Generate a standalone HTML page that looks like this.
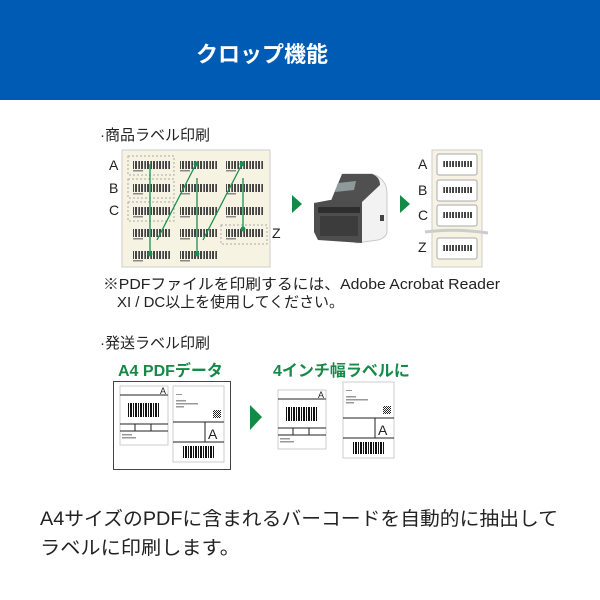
<!DOCTYPE html>
<html><head><meta charset="utf-8"><style>
body{margin:0;width:600px;height:600px;background:#fff;overflow:hidden}
svg{display:block}
text{font-family:"Liberation Sans","Noto Sans CJK JP",sans-serif}
</style></head><body>
<svg width="600" height="600" viewBox="0 0 600 600">
<defs>
<pattern id="bc" width="6" height="10" patternUnits="userSpaceOnUse">
<rect x="0" width="1" height="10" fill="#444"/><rect x="2" width="2" height="10" fill="#444"/><rect x="5" width="1" height="10" fill="#777"/>
</pattern>
<pattern id="bc2" width="5" height="10" patternUnits="userSpaceOnUse">
<rect x="0" width="2" height="10" fill="#111"/><rect x="3" width="1" height="10" fill="#111"/>
</pattern>
<pattern id="chk" width="2" height="2" patternUnits="userSpaceOnUse">
<rect width="1" height="1" fill="#222"/><rect x="1" y="1" width="1" height="1" fill="#222"/>
</pattern>
<g id="lb"><rect width="38" height="8" fill="url(#bc)"/><rect y="9" width="10" height="1.5" fill="#888"/></g>
</defs>
<rect width="600" height="100" fill="#005bb5"/>
<text x="262" y="62" font-size="22" font-weight="bold" fill="#fff" text-anchor="middle">クロップ機能</text>

<text x="100" y="140" font-size="15" fill="#222">·商品ラベル印刷</text>
<rect x="122" y="150" width="148" height="117" fill="#f7f3e3" stroke="#ccc"/>
<g font-size="14" fill="#222">
<text x="109" y="170">A</text><text x="109" y="193">B</text><text x="109" y="215">C</text><text x="272" y="238">Z</text>
</g>
<g fill="none" stroke="#aaa" stroke-dasharray="2,2">
<rect x="128" y="156" width="46" height="19"/><rect x="128" y="179" width="46" height="19"/><rect x="128" y="202" width="46" height="19"/><rect x="221" y="225" width="46" height="19"/>
</g>
<use href="#lb" x="133" y="161"/><use href="#lb" x="180" y="161"/><use href="#lb" x="226" y="161"/>
<use href="#lb" x="133" y="184"/><use href="#lb" x="180" y="184"/><use href="#lb" x="226" y="184"/>
<use href="#lb" x="133" y="207"/><use href="#lb" x="180" y="207"/><use href="#lb" x="226" y="207"/>
<use href="#lb" x="133" y="229"/><use href="#lb" x="180" y="229"/><use href="#lb" x="226" y="229"/>
<use href="#lb" x="133" y="251"/><use href="#lb" x="180" y="251"/>
<g stroke="#1a9050" stroke-width="1.3" fill="#1a9050">
<line x1="150" y1="164" x2="150" y2="254"/><line x1="157" y1="240" x2="196" y2="164"/>
<line x1="197" y1="178" x2="197" y2="254"/><line x1="203" y1="240" x2="242" y2="164"/>
<line x1="243" y1="178" x2="243" y2="229"/>
<circle cx="150" cy="254" r="1.8"/><circle cx="196" cy="164" r="1.8"/><circle cx="197" cy="254" r="1.8"/><circle cx="242" cy="164" r="1.8"/><circle cx="243" cy="229" r="1.8"/>
</g>
<polygon points="292,195 302,204 292,213" fill="#138a45"/>
<polygon points="400,195 410,204 400,213" fill="#138a45"/>
<!-- printer -->
<path d="M343 174 L372 174 Q386 178 387 192 L387 232 Q386 238 378 240 L356 243 L345 235 Z" fill="#f2f2f2" stroke="#c8c8c8"/>
<path d="M342 174 L372 174 Q380 177 380 185 L362 202 L330 203 Z" fill="#505050"/>
<path d="M338 183 L356 181 L354 190 L335 192 Z" fill="#8e9a9a"/>
<path d="M314 203 L330 200 L362 201 L362 243 L318 240 L314 232 Z" fill="#4e4e4e"/>
<rect x="318" y="207" width="42" height="6" fill="#2e2e2e"/>
<rect x="320" y="216" width="38" height="20" fill="#3c3c3c"/>
<rect x="380" y="215" width="4" height="6" fill="#444"/>

<rect x="432" y="150" width="50" height="117" fill="#f7f3e3" stroke="#ccc"/>
<g fill="#fff" stroke="#aaa"><rect x="437" y="154" width="40" height="21" rx="2"/><rect x="437" y="180" width="40" height="21" rx="2"/><rect x="437" y="205" width="40" height="21" rx="2"/><rect x="437" y="238" width="40" height="21" rx="2"/></g>
<path d="M425 232 Q455 228 488 233" stroke="#ccc" stroke-width="3" fill="none"/>
<g fill="url(#bc)"><rect x="442" y="161" width="30" height="6"/><rect x="442" y="187" width="30" height="6"/><rect x="442" y="212" width="30" height="6"/><rect x="442" y="245" width="30" height="6"/></g>
<g font-size="14" fill="#222"><text x="418" y="169">A</text><text x="418" y="195">B</text><text x="418" y="220">C</text><text x="418" y="252">Z</text></g>

<text x="103" y="289" font-size="15" fill="#222" textLength="397" lengthAdjust="spacingAndGlyphs">※PDFファイルを印刷するには、Adobe Acrobat Reader</text>
<text x="117" y="307" font-size="15" fill="#222" textLength="227" lengthAdjust="spacingAndGlyphs">XI / DC以上を使用してください。</text>

<text x="100" y="348" font-size="15" fill="#222">·発送ラベル印刷</text>
<text x="118" y="376" font-size="16" font-weight="bold" fill="#138a45">A4 PDFデータ</text>
<text x="273" y="376" font-size="16" font-weight="bold" fill="#138a45">4インチ幅ラベルに</text>
<rect x="113.5" y="381.5" width="117" height="88" fill="#fff" stroke="#444"/>

<g id="s1">
<rect x="120" y="386" width="48" height="59" fill="#fff" stroke="#ccc"/>
<line x1="120" y1="395" x2="168" y2="395" stroke="#222"/>
<text x="160" y="394" font-size="9" fill="#222">A</text>
<rect x="127" y="403" width="33" height="14" fill="url(#bc2)"/>
<line x1="120" y1="424" x2="168" y2="424" stroke="#222"/>
<line x1="120" y1="431" x2="168" y2="431" stroke="#222"/>
<line x1="135" y1="424" x2="135" y2="431" stroke="#222"/><line x1="151" y1="424" x2="151" y2="431" stroke="#222"/>
<rect x="122" y="434" width="10" height="1.5" fill="#999"/><rect x="122" y="437" width="14" height="1.5" fill="#999"/>
</g>
<g id="s2">
<rect x="173" y="386" width="51" height="76" fill="#fff" stroke="#ccc"/>
<rect x="176" y="394" width="6" height="1" fill="#999"/><rect x="176" y="400" width="10" height="1.5" fill="#999"/><rect x="176" y="403" width="22" height="1.5" fill="#999"/><rect x="176" y="406" width="8" height="1.5" fill="#999"/>
<rect x="213" y="410" width="8" height="8" fill="url(#chk)"/>
<line x1="173" y1="422" x2="224" y2="422" stroke="#222"/>
<line x1="173" y1="442" x2="224" y2="442" stroke="#222"/>
<line x1="205" y1="422" x2="205" y2="442" stroke="#222"/>
<text x="208" y="439" font-size="14" fill="#222">A</text>
<rect x="182" y="446" width="33" height="12" fill="url(#bc2)"/>
</g>
<polygon points="250,405 262,417 250,430" fill="#138a45"/>
<g transform="translate(158,4)"><use href="#s1"/></g>
<g transform="translate(170,-4)"><use href="#s2"/></g>

<text x="40" y="525" font-size="19" fill="#222" textLength="518" lengthAdjust="spacingAndGlyphs">A4サイズのPDFに含まれるバーコードを自動的に抽出して</text>
<text x="40" y="554" font-size="19" fill="#222" textLength="200" lengthAdjust="spacingAndGlyphs">ラベルに印刷します。</text>
</svg>
</body></html>
